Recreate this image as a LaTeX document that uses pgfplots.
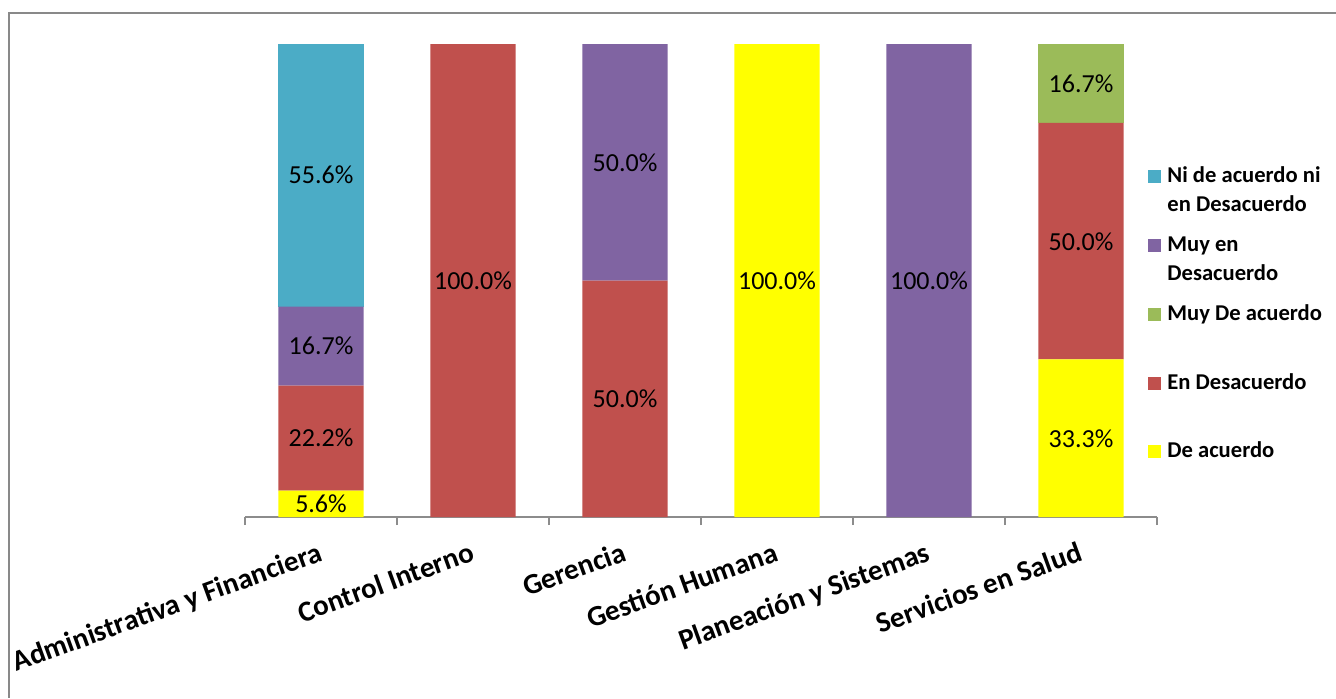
\documentclass[border=0pt]{standalone}
\usepackage{pgfplots}
\pgfplotsset{compat=1.18}
\usepackage{fontspec}
\setmainfont{Carlito}

\definecolor{cDe}{HTML}{FFFF00}
\definecolor{cEnDes}{HTML}{C0504D}
\definecolor{cMuyDe}{HTML}{9BBB59}
\definecolor{cMuyEn}{HTML}{8064A2}
\definecolor{cNi}{HTML}{4BACC6}
\definecolor{framegray}{HTML}{898989}
\definecolor{axisgray}{HTML}{8C8C8C}

\pgfplotsset{
  base/.style={
    at={(122.5pt,90.5pt)}, anchor=south west,
    scale only axis, width=456pt, height=236.5pt,
    xmin=-0.5, xmax=5.5, ymin=0, ymax=100, clip=false,
  },
}

\begin{document}
\begin{tikzpicture}
\useasboundingbox (0,0) rectangle (668pt,349pt);
% chart area border (top and left edges)
\draw[framegray, line width=1pt] (668pt,342.5pt) -- (4.5pt,342.5pt) -- (4.5pt,0pt);

% stacked bars, bottom to top
\begin{axis}[base,
  ybar stacked, bar width=0.56,
  hide y axis, axis x line*=bottom,
  x axis line style={axisgray, line width=0.9pt},
  xtick={0,...,5},
  xticklabels={Administrativa y Financiera, Control Interno, Gerencia, Gestión Humana, Planeación y Sistemas, Servicios en Salud},
  major tick length=0pt,
  minor xtick={-0.5,0.5,...,5.5},
  minor tick length=4pt, tick align=outside,
  minor x tick style={axisgray, line width=0.9pt},
  xticklabel style={font=\bfseries\fontsize{14.5}{16}\selectfont, anchor=base east, inner sep=0pt, xshift=1.5pt, yshift=-21.5pt, rotate=20},
]
\addplot[fill=cDe, draw=none] coordinates {(0,5.6) (1,0) (2,0) (3,100) (4,0) (5,33.3)};
\addplot[fill=cEnDes, draw=none] coordinates {(0,22.2) (1,100) (2,50) (3,0) (4,0) (5,50)};
\addplot[fill=cMuyDe, draw=none] coordinates {(0,0) (1,0) (2,0) (3,0) (4,0) (5,16.7)};
\addplot[fill=cMuyEn, draw=none] coordinates {(0,16.7) (1,0) (2,50) (3,0) (4,100) (5,0)};
\addplot[fill=cNi, draw=none] coordinates {(0,55.6) (1,0) (2,0) (3,0) (4,0) (5,0)};
\end{axis}

% value labels at the middle of each segment
\begin{axis}[base, hide axis]
\addplot[draw=none, mark=none, nodes near coords, point meta=explicit symbolic,
  nodes near coords style={anchor=center, font=\fontsize{13}{15}\selectfont, text=black}]
  coordinates {
    (0,2.8) [5.6\%]
    (0,16.7) [22.2\%]
    (0,36.15) [16.7\%]
    (0,72.3) [55.6\%]
    (1,50) [100.0\%]
    (2,25) [50.0\%]
    (2,75) [50.0\%]
    (3,50) [100.0\%]
    (4,50) [100.0\%]
    (5,16.65) [33.3\%]
    (5,58.3) [50.0\%]
    (5,91.65) [16.7\%]
  };
\end{axis}

% legend (entries listed top to bottom, second lines 14.5pt below the first)
\begin{scope}[every node/.style={anchor=base west, inner sep=0pt,
    font=\bfseries\fontsize{11.3}{14.5}\selectfont}]
  \fill[cNi]    (574pt,257.5pt) rectangle ++(6.5pt,6.5pt);
  \node at (583.5pt,257.75pt) {Ni de acuerdo ni};
  \node at (583.5pt,243.25pt) {en Desacuerdo};
  \fill[cMuyEn] (574pt,223.25pt) rectangle ++(6.5pt,6.5pt);
  \node at (583.5pt,223.5pt) {Muy en};
  \node at (583.5pt,209pt) {Desacuerdo};
  \fill[cMuyDe] (574pt,188.75pt) rectangle ++(6.5pt,6.5pt);
  \node at (583.5pt,189pt) {Muy De acuerdo};
  \fill[cEnDes] (574pt,154.25pt) rectangle ++(6.5pt,6.5pt);
  \node at (583.5pt,154.5pt) {En Desacuerdo};
  \fill[cDe]    (574pt,120.25pt) rectangle ++(6.5pt,6.5pt);
  \node at (583.5pt,120.5pt) {De acuerdo};
\end{scope}
\end{tikzpicture}
\end{document}
